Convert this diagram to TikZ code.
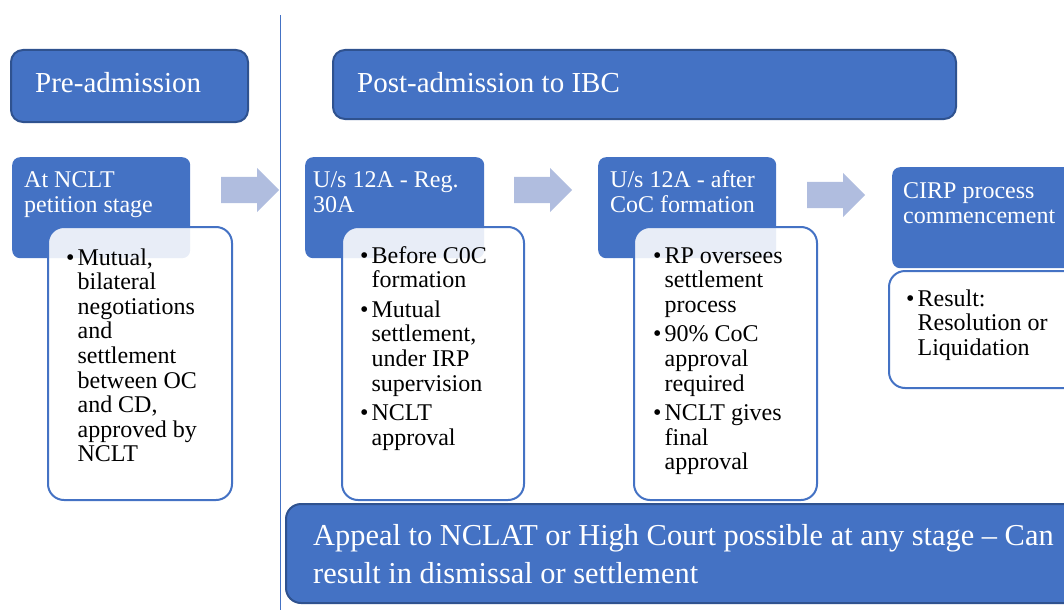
\documentclass[tikz,border=0pt]{standalone}
\usepackage{fontspec}
\setmainfont{Liberation Serif}
\usetikzlibrary{shapes.arrows}
\definecolor{ibcblue}{RGB}{68,114,196}
\definecolor{ibcdark}{RGB}{47,82,143}
\definecolor{ibcpale}{RGB}{176,189,223}
\tikzstyle{phase}=[draw=ibcdark,line width=2pt,fill=ibcblue,rounded corners=12pt,anchor=north west,inner sep=0pt]
\tikzstyle{stage}=[fill=ibcblue,rounded corners=8pt,anchor=north west,inner sep=0pt]
\tikzstyle{detail}=[draw=ibcblue,line width=2pt,fill=white,fill opacity=0.88,rounded corners=16pt,anchor=north west,inner sep=0pt]
\tikzstyle{flow}=[single arrow,fill=ibcpale,anchor=tail,inner xsep=0pt,inner ysep=13pt,single arrow head extend=9pt,minimum height=58pt]
\tikzstyle{title}=[anchor=base west,inner sep=0pt,text=white,font=\rmfamily\fontsize{29}{35}\selectfont]
\tikzstyle{heading}=[anchor=base west,inner sep=0pt,text=white,font=\rmfamily\fontsize{24}{25}\selectfont]
\tikzstyle{points}=[anchor=base west,inner sep=0pt,font=\rmfamily\fontsize{24}{24.6}\selectfont]

\begin{document}
\begin{tikzpicture}[x=1pt,y=-1pt]
    \useasboundingbox (0,0) rectangle (1064,610);
    \clip (0,0) rectangle (1064,610);
    \draw[ibcblue,line width=1pt] (280,15) -- (280,610);

    % phase headers
    \node[phase,minimum width=237pt,minimum height=72pt] (pre) at (10,49) {};
    \node[phase,minimum width=623pt,minimum height=69pt] (post) at (332,49) {};
    \node[title] (pretxt) at (35,92) {Pre-admission};
    \node[title] (posttxt) at (357,92) {Post-admission to IBC};

    % stages
    \node[stage,minimum width=178pt,minimum height=101pt] (s1) at (12,157) {};
    \node[stage,minimum width=179pt,minimum height=101pt] (s2) at (305,157) {};
    \node[stage,minimum width=178pt,minimum height=101pt] (s3) at (598,157) {};
    \node[stage,minimum width=200pt,minimum height=101pt] (s4) at (892,167) {};
    \node[heading] (s1txt) at (24,187) {\begin{tabular}[t]{@{}l@{}}At NCLT\\petition stage\end{tabular}};
    \node[heading] (s2txt) at (313,187) {\begin{tabular}[t]{@{}l@{}}U/s 12A - Reg.\\30A\end{tabular}};
    \node[heading] (s3txt) at (610,187) {\begin{tabular}[t]{@{}l@{}}U/s 12A - after\\CoC formation\end{tabular}};
    \node[heading] (s4txt) at (903,198) {\begin{tabular}[t]{@{}l@{}}CIRP process\\commencement\end{tabular}};

    % details
    \node[detail,minimum width=184pt,minimum height=273pt] (d1) at (47,226) {};
    \node[detail,minimum width=182pt,minimum height=273pt] (d2) at (341,226) {};
    \node[detail,minimum width=183pt,minimum height=273pt] (d3) at (633,226) {};
    \node[detail,minimum width=200pt,minimum height=117pt] (d4) at (888,270) {};

    \node[points] (d1txt) at (66,265) {\begin{tabular}[t]{@{}l@{\hspace{3pt}}l@{}}
        \textbullet&Mutual,\\&bilateral\\&negotiations\\&and\\&settlement\\&between OC\\&and CD,\\&approved by\\&NCLT\end{tabular}};
    \node[points] (d2txt) at (360,263) {\begin{tabular}[t]{@{}l@{\hspace{3pt}}l@{}}
        \textbullet&Before C0C\\&formation\\[5pt]
        \textbullet&Mutual\\&settlement,\\&under IRP\\&supervision\\[5pt]
        \textbullet&NCLT\\&approval\end{tabular}};
    \node[points] (d3txt) at (653,263) {\begin{tabular}[t]{@{}l@{\hspace{3pt}}l@{}}
        \textbullet&RP oversees\\&settlement\\&process\\[5pt]
        \textbullet&90\% CoC\\&approval\\&required\\[5pt]
        \textbullet&NCLT gives\\&final\\&approval\end{tabular}};
    \node[points] (d4txt) at (906,306) {\begin{tabular}[t]{@{}l@{\hspace{3pt}}l@{}}
        \textbullet&Result:\\&Resolution or\\&Liquidation\end{tabular}};

    % flow arrows
    \node[flow] (a1) at (221,190) {};
    \node[flow] (a2) at (514,190) {};
    \node[flow] (a3) at (807,195) {};

    % appeal
    \node[phase,rounded corners=15pt,minimum width=800pt,minimum height=99pt] (appeal) at (285,503) {};
    \node[title,font=\rmfamily\fontsize{30.4}{38}\selectfont] (appealtxt) at (313,545) {\begin{tabular}[t]{@{}l@{}}Appeal to NCLAT or High Court possible at any stage -- Can\\result in dismissal or settlement\end{tabular}};
\end{tikzpicture}
\end{document}
